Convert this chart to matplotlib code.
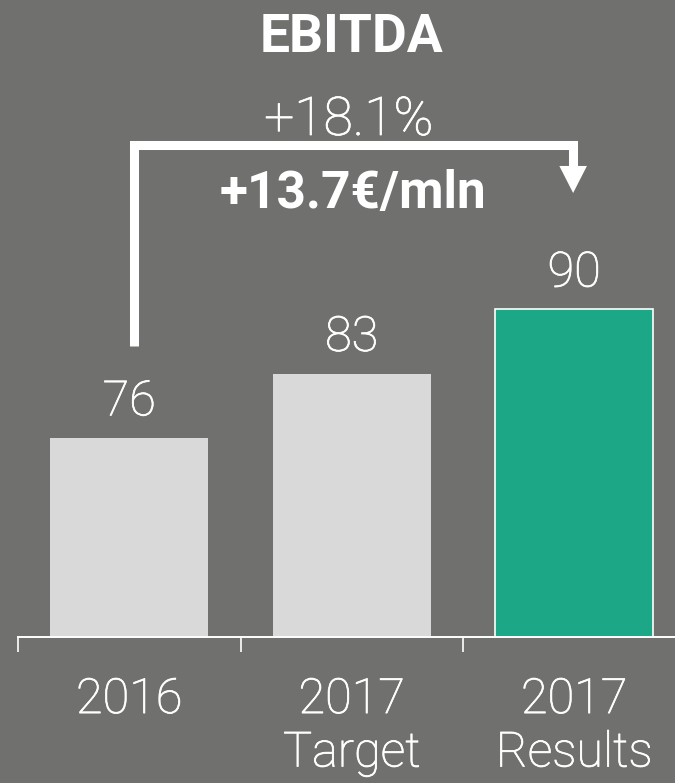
import matplotlib
matplotlib.use("Agg")
import matplotlib.pyplot as plt
from matplotlib.patches import Polygon
import matplotlib.patheffects as pe

categories = ["2016", "2017\nTarget", "2017\nResults"]
values = [76, 83, 90]
title = "EBITDA"
pct_label = "+18.1%"
abs_label = "+13.7€/mln"

BG = "#70706e"
GRAY = "#d9d9d9"
TEAL = "#1ca886"
W, H, DPI = 675, 783, 100

plt.rcParams["font.family"] = ["Roboto", "DejaVu Sans"]
FX = [pe.withStroke(linewidth=0.55, foreground="white")]

fig = plt.figure(figsize=(W / DPI, H / DPI), dpi=DPI, facecolor=BG)
base_px = 637
ax = fig.add_axes([18 / W, (H - base_px) / H, 667.5 / W, base_px / H])
ax.set_facecolor(BG)

ymin = 54.4
ppu = 9.2
ax.set_ylim(ymin, ymin + base_px / ppu)
ax.set_xlim(-0.5, 2.5)

x = list(range(len(values)))
colors = [GRAY, GRAY, TEAL]
edges = [GRAY, GRAY, "white"]
lws = [0, 0, 1.2]
bars = ax.bar(x, values, width=0.71, bottom=0, color=colors, edgecolor=edges,
              linewidth=lws, zorder=2)

for xi, v in zip(x, values):
    ax.annotate(str(v), (xi, v), xytext=(0, 16.5), textcoords="offset points",
                ha="center", va="baseline", fontsize=35, fontweight="light",
                color="white", path_effects=FX)

for s in ["top", "left", "right"]:
    ax.spines[s].set_visible(False)
ax.spines["bottom"].set_color("white")
ax.spines["bottom"].set_linewidth(1.4)
ax.set_yticks([])
ax.set_xticks([-0.5, 0.5, 1.5, 2.5])
ax.set_xticklabels([])
ax.set_xticks(x, minor=True)
ax.set_xticklabels(categories, minor=True, fontsize=35, fontweight="light",
                   color="white", linespacing=1.19, path_effects=FX)
ax.tick_params(axis="x", which="major", length=11, width=1.2, color="white",
               direction="out")
ax.tick_params(axis="x", which="minor", length=0, pad=28.5)

# growth arrow from 2016 to 2017 Results
x0, x1 = 0.02, 1.995
y_low, y_top = 86.0, 107.9
head_base, head_tip = 105.6, 102.66
ax.plot([x0, x0, x1, x1], [y_low, y_top, y_top, head_base], color="white",
        lw=6.5, solid_joinstyle="miter", solid_capstyle="butt", zorder=3,
        clip_on=False)
hw = 0.062
ax.add_patch(Polygon([[x1 - hw, head_base], [x1 + hw, head_base], [x1, head_tip]],
                     closed=True, facecolor="white", edgecolor="none", zorder=3))

fig.text(352 / W, (H - 52) / H, title, ha="center", va="baseline",
         fontsize=38.5, fontweight="bold", color="white")
fig.text(349 / W, (H - 135) / H, pct_label, ha="center", va="baseline",
         fontsize=38.5, fontweight="light", color="white", path_effects=FX)
fig.text(353 / W, (H - 208) / H, abs_label, ha="center", va="baseline",
         fontsize=37, fontweight="bold", color="white")

fig.savefig("out.png", dpi=DPI, facecolor=BG)
